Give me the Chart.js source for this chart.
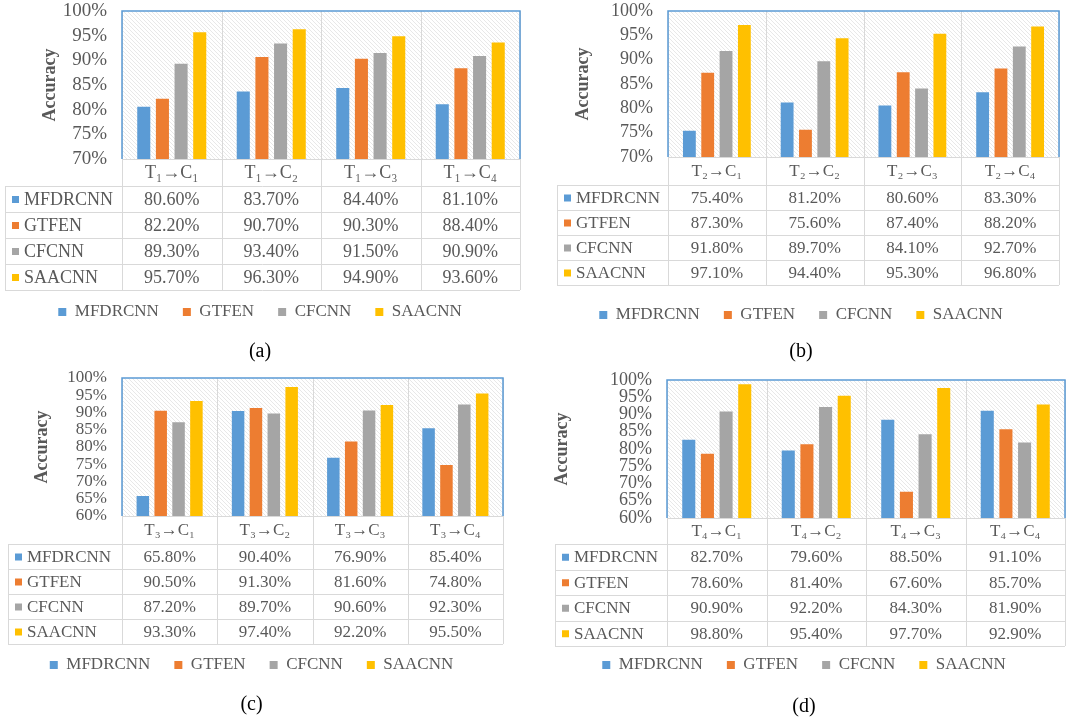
<!DOCTYPE html>
<html>
<head>
<meta charset="utf-8">
<script src="https://cdn.jsdelivr.net/npm/chart.js@4.4.0/dist/chart.umd.min.js"></script>
<style>
  html, body { margin: 0; padding: 0; background: #fff; }
  #wrap { position: relative; width: 1086px; height: 723px; overflow: hidden; }
  canvas { position: absolute; }
</style>
</head>
<body>
<div id="wrap">
  <canvas id="chartA" width="543" height="362" style="left:0;top:0"></canvas>
  <canvas id="chartB" width="543" height="362" style="left:543px;top:0"></canvas>
  <canvas id="chartC" width="543" height="361" style="left:0;top:362px"></canvas>
  <canvas id="chartD" width="543" height="361" style="left:543px;top:362px"></canvas>
</div>
<script>
// methods compared in every panel
const models = ['MFDRCNN', 'GTFEN', 'CFCNN', 'SAACNN'];
const modelColors = ['#5b9bd5', '#ed7d31', '#a5a5a5', '#ffc000'];

// y tick values
const yTicksAB = [70, 75, 80, 85, 90, 95, 100];
const yTicksCD = [60, 65, 70, 75, 80, 85, 90, 95, 100];

// (a) source T1
const catsA = ['T₁→C₁', 'T₁→C₂', 'T₁→C₃', 'T₁→C₄'];
const mfdrcnnA = [80.6, 83.7, 84.4, 81.1];
const gtfenA = [82.2, 90.7, 90.3, 88.4];
const cfcnnA = [89.3, 93.4, 91.5, 90.9];
const saacnnA = [95.7, 96.3, 94.9, 93.6];

// (b) source T2
const catsB = ['T₂→C₁', 'T₂→C₂', 'T₂→C₃', 'T₂→C₄'];
const mfdrcnnB = [75.4, 81.2, 80.6, 83.3];
const gtfenB = [87.3, 75.6, 87.4, 88.2];
const cfcnnB = [91.8, 89.7, 84.1, 92.7];
const saacnnB = [97.1, 94.4, 95.3, 96.8];

// (c) source T3
const catsC = ['T₃→C₁', 'T₃→C₂', 'T₃→C₃', 'T₃→C₄'];
const mfdrcnnC = [65.8, 90.4, 76.9, 85.4];
const gtfenC = [90.5, 91.3, 81.6, 74.8];
const cfcnnC = [87.2, 89.7, 90.6, 92.3];
const saacnnC = [93.3, 97.4, 92.2, 95.5];

// (d) source T4
const catsD = ['T₄→C₁', 'T₄→C₂', 'T₄→C₃', 'T₄→C₄'];
const mfdrcnnD = [82.7, 79.6, 88.5, 91.1];
const gtfenD = [78.6, 81.4, 67.6, 85.7];
const cfcnnD = [90.9, 92.2, 84.3, 81.9];
const saacnnD = [98.8, 95.4, 97.7, 92.9];

const FONT = '"Liberation Serif", "Times New Roman", serif';
const TEXT = '#595959';

// diagonal hatch tile for the plot background
const tile = document.createElement('canvas');
tile.width = 4; tile.height = 4;
(function () {
  const g = tile.getContext('2d');
  g.strokeStyle = '#e2e2e2';
  g.lineWidth = 0.8;
  g.beginPath();
  g.moveTo(0, 0); g.lineTo(4, 4);
  g.moveTo(-1, 3); g.lineTo(1, 5);
  g.moveTo(3, -1); g.lineTo(5, 1);
  g.stroke();
})();

/**
 * hatch behind the bars, data table under the plot
 */
const tablePlugin = {
  id: 'dataTable',
  beforeDatasetsDraw(chart) {
    const {ctx, chartArea: a} = chart;
    ctx.save();
    ctx.fillStyle = ctx.createPattern(tile, 'repeat');
    ctx.fillRect(a.left, a.top, a.right - a.left, a.bottom - a.top);
    ctx.restore();
  },
  afterDatasetsDraw(chart, args, opts) {
    const {ctx, chartArea: a, scales: {x}} = chart;
    const n = chart.data.labels.length;
    const colW = (a.right - a.left) / n;
    const sets = chart.data.datasets;
    const headBottom = a.bottom + opts.headerH;
    const tableBottom = headBottom + sets.length * opts.rowH;
    ctx.save();
    ctx.strokeStyle = '#d9d9d9';
    ctx.lineWidth = 1;
    ctx.beginPath();
    for (let i = 0; i <= n; i++) {
      const px = Math.round(a.left + i * colW) + 0.5;
      ctx.moveTo(px, a.top);
      ctx.lineTo(px, tableBottom);
    }
    ctx.moveTo(opts.tableLeft + 0.5, headBottom);
    ctx.lineTo(opts.tableLeft + 0.5, tableBottom);
    for (let r = 0; r <= sets.length; r++) {
      const py = Math.round(headBottom + r * opts.rowH) + 0.5;
      ctx.moveTo(opts.tableLeft, py);
      ctx.lineTo(a.right, py);
    }
    ctx.moveTo(a.left, Math.round(a.bottom) + 0.5);
    ctx.lineTo(a.right, Math.round(a.bottom) + 0.5);
    ctx.stroke();

    ctx.strokeStyle = '#5b9bd5';
    ctx.lineWidth = 1.5;
    ctx.beginPath();
    ctx.moveTo(a.left, a.bottom);
    ctx.lineTo(a.left, a.top);
    ctx.lineTo(a.right, a.top);
    ctx.lineTo(a.right, a.bottom);
    ctx.stroke();

    ctx.font = opts.fontSize + 'px ' + FONT;
    ctx.textBaseline = 'middle';
    ctx.textAlign = 'center';
    ctx.fillStyle = TEXT;
    chart.data.labels.forEach((lab, i) => {
      ctx.fillText(lab, x.getPixelForValue(i), a.bottom + opts.headerH / 2 + 1);
    });
    sets.forEach((ds, r) => {
      const cy = headBottom + (r + 0.5) * opts.rowH + 1;
      ctx.textAlign = 'center';
      ctx.fillStyle = TEXT;
      ds.data.forEach((v, i) => ctx.fillText(v.toFixed(2) + '%', x.getPixelForValue(i), cy));
      ctx.fillStyle = ds.backgroundColor;
      ctx.fillRect(opts.tableLeft + 7, cy - 4, 7, 7);
      ctx.fillStyle = TEXT;
      ctx.textAlign = 'left';
      ctx.fillText(ds.label, opts.tableLeft + 19, cy);
    });
    ctx.restore();
  }
};

function makeChart(id, cats, series, yTicks, caption, L) {
  // legend box is 51px tall with its text centred 32.5px below its top
  const legendPad = 24, legendFont = 17, capFont = 20;
  const legendTop = L.legendY - 32.5;
  const legendBottom = legendTop + 51;
  const capTop = L.capY - capFont * 0.6 - legendBottom;
  const capBottom = L.h - (legendBottom + capFont * 1.2 + capTop);
  const xAxisH = legendTop - L.chartB;

  return new Chart(document.getElementById(id), {
    type: 'bar',
    data: {
      labels: cats,
      datasets: series.map((d, i) => ({
        label: models[i],
        data: d,
        backgroundColor: modelColors[i],
        borderWidth: 0,
        categoryPercentage: 0.75,
        barPercentage: 0.7
      }))
    },
    options: {
      responsive: false,
      animation: false,
      layout: { padding: { left: 0, top: L.chartT, right: L.w - L.chartR, bottom: 0 } },
      scales: {
        x: {
          ticks: { display: false },
          grid: { display: false, drawTicks: false },
          border: { display: false },
          afterFit: s => { s.height = xAxisH; }
        },
        y: {
          min: yTicks[0],
          max: yTicks[yTicks.length - 1],
          ticks: {
            stepSize: yTicks[1] - yTicks[0],
            autoSkip: false,
            padding: 15,
            color: TEXT,
            font: { family: FONT, size: L.tickFont },
            callback: v => v + '%'
          },
          grid: { display: false, drawTicks: false },
          border: { display: false },
          title: {
            display: true,
            text: 'Accuracy',
            color: TEXT,
            font: { family: FONT, size: 18, weight: 'bold' },
            padding: { top: L.titleX - 10.8, bottom: 0 }
          },
          afterFit: s => {
            s.width = L.chartL;
            s.paddingTop = 0;
            s.paddingBottom = 0;
          }
        }
      },
      plugins: {
        legend: {
          position: 'bottom',
          labels: {
            boxWidth: 8,
            boxHeight: 8,
            padding: legendPad,
            color: TEXT,
            font: { family: FONT, size: legendFont }
          }
        },
        title: {
          display: true,
          position: 'bottom',
          text: caption,
          color: '#000',
          font: { family: FONT, size: capFont, weight: 'normal' },
          padding: { top: capTop, bottom: capBottom }
        },
        tooltip: { enabled: false },
        dataTable: { tableLeft: L.tableL, headerH: L.headerH, rowH: L.rowH, fontSize: L.tableFont }
      }
    },
    plugins: [tablePlugin]
  });
}

makeChart('chartA', catsA, [mfdrcnnA, gtfenA, cfcnnA, saacnnA], yTicksAB, '(a)',
  { w: 543, h: 362, chartL: 122, chartR: 520, chartT: 11, chartB: 159, tableL: 5, headerH: 27, rowH: 26,
    legendY: 312, capY: 352, tickFont: 19, tableFont: 18, titleX: 50 });
makeChart('chartB', catsB, [mfdrcnnB, gtfenB, cfcnnB, saacnnB], yTicksAB, '(b)',
  { w: 543, h: 362, chartL: 125, chartR: 516, chartT: 11, chartB: 157, tableL: 14, headerH: 28, rowH: 25,
    legendY: 315, capY: 352, tickFont: 18, tableFont: 17, titleX: 40 });
makeChart('chartC', catsC, [mfdrcnnC, gtfenC, cfcnnC, saacnnC], yTicksCD, '(c)',
  { w: 543, h: 361, chartL: 122, chartR: 503, chartT: 16, chartB: 154, tableL: 8, headerH: 28, rowH: 25,
    legendY: 303, capY: 343, tickFont: 17, tableFont: 17, titleX: 42 });
makeChart('chartD', catsD, [mfdrcnnD, gtfenD, cfcnnD, saacnnD], yTicksCD, '(d)',
  { w: 543, h: 361, chartL: 124, chartR: 522, chartT: 18, chartB: 156, tableL: 12, headerH: 26, rowH: 25.5,
    legendY: 303, capY: 345, tickFont: 18, tableFont: 17, titleX: 19 });
</script>
</body>
</html>
